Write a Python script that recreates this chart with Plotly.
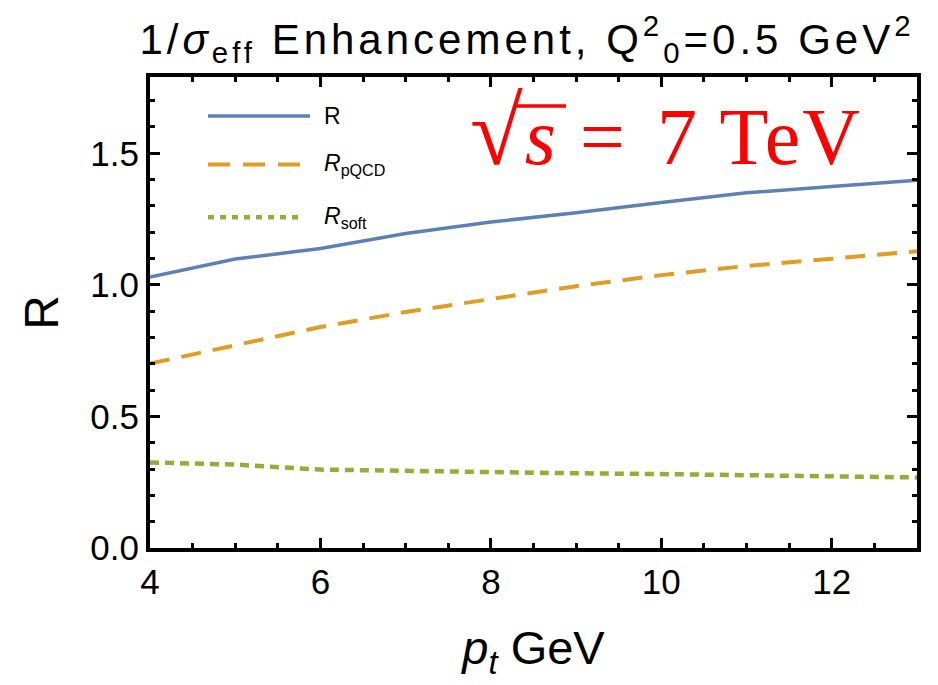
import plotly.graph_objects as go

# transverse momentum grid (GeV)
pt = [4, 5, 6, 7, 8, 9, 10, 11, 12, 13]

# enhancement ratios
r_total = [1.030, 1.098, 1.138, 1.195, 1.239, 1.274, 1.313, 1.350, 1.374, 1.398]
r_pqcd = [0.701, 0.771, 0.840, 0.897, 0.946, 0.995, 1.037, 1.072, 1.099, 1.128]
r_soft = [0.325, 0.317, 0.298, 0.292, 0.288, 0.284, 0.281, 0.278, 0.274, 0.268]

series_names = ["R", "<i>R</i><sub>pQCD</sub>", "<i>R</i><sub>soft</sub>"]

BLUE = "#5E81B5"
ORANGE = "#E19C24"
GREEN = "#8FB032"

FONT = "Liberation Sans, Arial, sans-serif"
SERIF = "Liberation Serif, DejaVu Serif, serif"

fig = go.Figure()
fig.add_trace(go.Scatter(x=pt, y=r_total, mode="lines", name=series_names[0],
                         line=dict(color=BLUE, width=3.5)))
fig.add_trace(go.Scatter(x=pt, y=r_pqcd, mode="lines", name=series_names[1],
                         line=dict(color=ORANGE, width=4, dash="20px,12px")))
fig.add_trace(go.Scatter(x=pt, y=r_soft, mode="lines", name=series_names[2],
                         line=dict(color=GREEN, width=4.5, dash="9px,6px")))

# hand-drawn legend: sample line + label for each series
legend_rows = [
    (0.917, BLUE, "solid", 3.5, 0.133),
    (0.814, ORANGE, "22px,13px", 4, 0.122),
    (0.702, GREEN, "6px,6px", 4.5, 0.124),
]
x0_leg = (208 - 150) / 767
for (yp, col, dash, w, length), label in zip(legend_rows, series_names):
    fig.add_shape(type="line", xref="paper", yref="paper",
                  x0=x0_leg, x1=x0_leg + length, y0=yp, y1=yp,
                  line=dict(color=col, width=w, dash=dash))
    fig.add_annotation(xref="paper", yref="paper", x=(322 - 150) / 767, y=yp,
                       text=label, showarrow=False, xanchor="left", yanchor="middle",
                       font=dict(family=FONT, size=23, color="black"))

# collision energy label, sqrt sign with its vinculum over s
fig.add_annotation(xref="paper", yref="paper", x=(468 - 150) / 767, y=0.885,
                   text="<span style=\"letter-spacing:2px\"><span style=\"font-size:96px\">√</span><i>s</i>"
                        " <span style=\"letter-spacing:10px\">=</span> 7 TeV</span>",
                   showarrow=False, xanchor="left", yanchor="middle",
                   font=dict(family=SERIF, size=80, color="red"))
fig.add_shape(type="line", xref="paper", yref="paper",
              x0=(516 - 150) / 767, x1=(566 - 150) / 767,
              y0=(548 - 106) / 471, y1=(548 - 106) / 471,
              line=dict(color="red", width=3.5))

axis_common = dict(
    showline=True, linecolor="black", linewidth=4, mirror="allticks",
    ticks="inside", ticklen=10, tickwidth=3, tickcolor="black",
    showgrid=False, zeroline=False,
    tickfont=dict(family=FONT, size=35, color="black"),
)

fig.update_xaxes(range=[4, 13], tick0=4, dtick=2,
                 minor=dict(ticks="inside", dtick=0.5, ticklen=5, tickwidth=3, tickcolor="black", showgrid=False),
                 title=dict(text="<i>p</i><sub><i>t</i></sub> GeV", font=dict(family=FONT, size=47, color="black"),
                            standoff=32),
                 **axis_common)
fig.update_yaxes(range=[0, 1.79], tick0=0, dtick=0.5, tickformat=".1f",
                 minor=dict(ticks="inside", dtick=0.1, ticklen=5, tickwidth=3, tickcolor="black", showgrid=False),
                 title=dict(text="R", font=dict(family=FONT, size=48, color="black"), standoff=18),
                 **axis_common)

fig.update_layout(
    width=938, height=685,
    margin=dict(l=150, r=21, t=77, b=137),
    paper_bgcolor="white", plot_bgcolor="white",
    showlegend=False,
    title=dict(text="<span style=\"letter-spacing:4px\">1/<i>σ</i><sub>eff</sub> Enhancement, "
                    "Q<sup>2</sup><sub>0</sub>=0.5 GeV<sup>2</sup></span>",
               x=(527) / 938, xref="container", xanchor="center",
               y=1 - 54 / 685, yref="container", yanchor="bottom",
               font=dict(family=FONT, size=42, color="black")),
)

fig.write_html("out.html")
